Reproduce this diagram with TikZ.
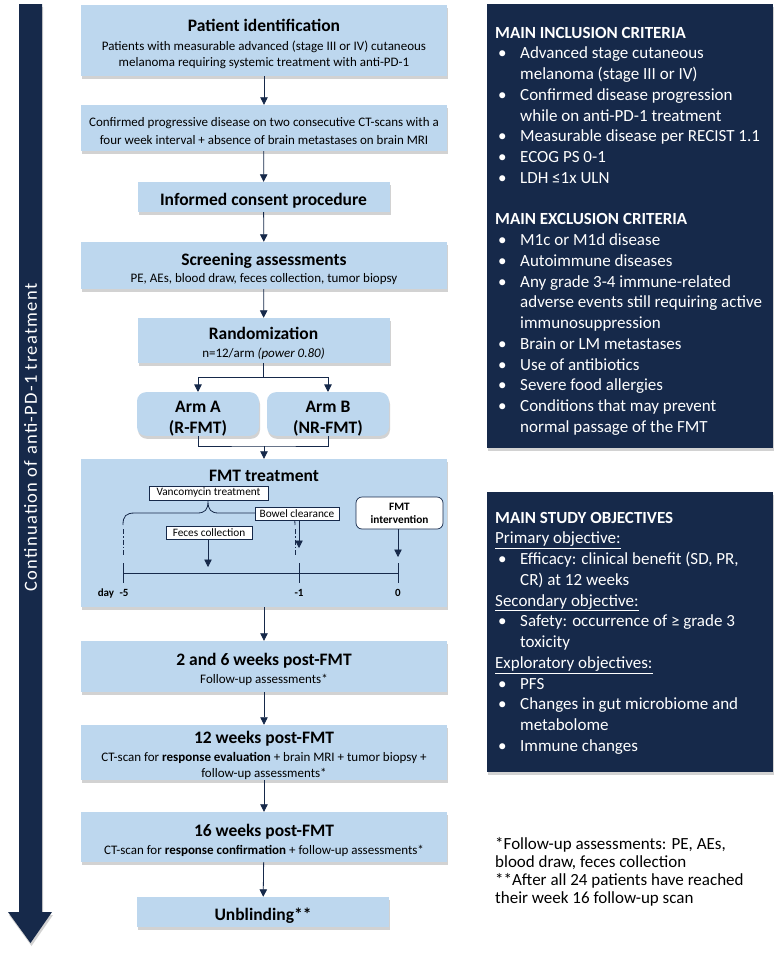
\documentclass[tikz,border=0pt]{standalone}
\usepackage{fontspec}
\setmainfont{Carlito}
\usetikzlibrary{arrows.meta,shadows,positioning}
\definecolor{navy}{HTML}{16294A}
\definecolor{paleblue}{HTML}{BDD7EE}
\def\up#1{\rule{0pt}{#1pt}}
\def\hd{\fontsize{17.5}{19}\selectfont\bfseries\up{19}}
\def\sub{\fontsize{13}{16}\selectfont}
\def\sm{\fontsize{11.3}{13}\selectfont}
\def\bul{\makebox[25pt][l]{\hspace{3pt}\textbullet}}
\def\ind{\hspace*{25pt}}
\def\dflow{\draw[flow]}

\begin{document}
\begin{tikzpicture}[x=1pt,y=-1pt,
  shadowed/.style={drop shadow={shadow xshift=1pt,shadow yshift=-3pt,fill=black!35}},
  stage/.style={fill=paleblue,shadowed,inner sep=0pt,align=center,font=\sub,minimum width=366pt},
  narrow/.style={stage,minimum width=252pt},
  arm/.style={stage,font=\fontsize{17.5}{21}\selectfont\bfseries,minimum width=122pt,minimum height=42pt,rounded corners=9pt},
  tag/.style={draw=navy,fill=white,line width=0.7pt,inner sep=0pt,font=\sm},
  flow/.style={navy,line width=0.8pt,-{Triangle[length=7.5pt,width=7.5pt]}},
  link/.style={navy,line width=0.8pt},
  daylbl/.style={inner sep=0pt,font=\fontsize{11}{12}\selectfont\bfseries},
  panel/.style={fill=navy,shadowed,inner sep=0pt,anchor=north west,minimum width=286pt},
  ptext/.style={white,anchor=north west,inner sep=0pt,align=left,font=\fontsize{17}{20.75}\selectfont}]
\useasboundingbox (0,0) rectangle (780,954);

\fill[navy,shadowed] (19,4) -- (42,4) -- (42,912) -- (52,912) -- (30.5,943) -- (8,912) -- (19,912) -- cycle;
\node[rotate=90,white,font=\fontsize{18.5}{20}\selectfont\addfontfeature{LetterSpace=7}] (cont) at (30.5,437.5) {Continuation of anti-PD-1 treatment};

\node[stage,minimum height=71pt] (ident) at (264,40.5) {{\hd Patient identification}\\[3pt]
  Patients with measurable advanced (stage III or IV) cutaneous\\melanoma requiring systemic treatment with anti-PD-1};
\node[stage,minimum height=46pt,font=\fontsize{13}{18}\selectfont] (confirm) at (264,128) {\up{15}Confirmed progressive disease on two consecutive CT-scans with a\\four week interval + absence of brain metastases on brain MRI};
\node[narrow,minimum height=30pt] (consent) at (263.5,197) {\hd Informed consent procedure};
\node[stage,minimum height=47pt] (screen) at (264,265.5) {{\hd Screening assessments}\\[1pt]PE, AEs, blood draw, feces collection, tumor biopsy};
\node[narrow,minimum height=45pt] (random) at (263.5,340.5) {{\hd Randomization}\\[2pt]n=12/arm \textit{(power 0.80)}};
\node[arm] (armA) at (198,414) {\up{20}Arm A\\(R-FMT)};
\node[arm] (armB) at (328,414) {\up{20}Arm B\\(NR-FMT)};
\node[stage,minimum height=148pt,label={[font=\hd,anchor=north,yshift=0pt]north:FMT treatment}] (fmt) at (264,533) {};
\node[stage,minimum height=51pt] (wk6) at (264,666.5) {{\hd 2 and 6 weeks post-FMT}\\[2pt]Follow-up assessments*};
\node[stage,minimum height=49pt] (wk12) at (264,752.5) {{\hd 12 weeks post-FMT}\\[2pt]CT-scan for \textbf{response evaluation} + brain MRI + tumor biopsy +\\follow-up assessments*};
\node[stage,minimum height=50pt] (wk16) at (264,837) {{\hd 16 weeks post-FMT}\\[2pt]CT-scan for \textbf{response confirmation} + follow-up assessments*};
\node[narrow,minimum height=30pt] (unblind) at (263,912) {\hd Unblinding**};

\dflow (ident) -- (confirm);
\dflow (confirm) -- (consent);
\dflow (consent) -- (screen);
\dflow (screen) -- (random);
\dflow (random.south) -- ++(0,14) coordinate (split) -| (armA.north);
\dflow (split) -| (armB.north);
\coordinate (merge) at (264,446);
\draw[link] (armA.south) |- (merge) -| (armB.south);
\dflow (merge) -- (fmt);
\dflow (fmt) -- (wk6);
\dflow (wk6) -- (wk12);
\dflow (wk12) -- (wk16);
\dflow (wk16) -- (unblind);

\coordinate (d5) at (123,573);
\coordinate (d1) at (299,573);
\coordinate (d0) at (398,573);
\draw[link] (d5) -- (d0);
\foreach \d in {d5,d1,d0} \draw[link] ([yshift=10pt]\d) -- ([yshift=-10pt]\d);
\node[daylbl] (lbl5) at (124,593) {-5};
\node[daylbl,left=5pt of lbl5] (lblday) {day};
\node[daylbl] (lbl1) at (299,593) {-1};
\node[daylbl] (lbl0) at (398,593) {0};

\draw[link] (123,525) .. controls (123,516) and (126,513) .. (135,513) -- (197,513)
  .. controls (205,513) and (208,510) .. (208,501) .. controls (208,510) and (211,513) .. (219,513)
  -- (283,513) .. controls (292,513) and (295,516) .. (295,525);
\draw[link,dash pattern=on 5pt off 2pt on 1.5pt off 2pt] (123,529) -- (123,555);
\draw[link,dash pattern=on 5pt off 2pt on 1.5pt off 2pt] (295,529) -- (295,555);
\node[tag,minimum width=119pt,minimum height=14pt] (vanco) at (208.5,493) {Vancomycin treatment};
\node[tag,minimum width=84pt,minimum height=13pt] (bowel) at (297,513.5) {Bowel clearance};
\node[tag,minimum width=86pt,minimum height=13pt] (feces) at (209,532.5) {Feces collection};
\node[tag,rounded corners=6pt,minimum width=87pt,minimum height=32pt,align=center,font=\fontsize{11.3}{13}\selectfont\bfseries] (fmtint) at (399.5,513) {FMT\\intervention};
\coordinate (bowelend) at (299,548);
\coordinate (fecesend) at (208,567);
\coordinate (fmtend) at (398,557);
\dflow (bowel.south -| bowelend) -- (bowelend);
\dflow (feces.south -| fecesend) -- (fecesend);
\dflow (fmtint.south -| fmtend) -- (fmtend);

\node[panel,minimum height=444pt] (criteria) at (487,4) {};
\node[ptext] (incl) at (495,26.8) {\textbf{MAIN INCLUSION CRITERIA}\\
  \bul Advanced stage cutaneous\\
  \ind melanoma (stage III or IV)\\
  \bul Confirmed disease progression\\
  \ind while on anti-PD-1 treatment\\
  \bul Measurable disease per RECIST 1.1\\
  \bul ECOG PS 0-1\\
  \bul LDH ≤1x ULN\\[20.75pt]
  \textbf{MAIN EXCLUSION CRITERIA}\\
  \bul M1c or M1d disease\\
  \bul Autoimmune diseases\\
  \bul Any grade 3-4 immune-related\\
  \ind adverse events still requiring active\\
  \ind immunosuppression\\
  \bul Brain or LM metastases\\
  \bul Use of antibiotics\\
  \bul Severe food allergies\\
  \bul Conditions that may prevent\\
  \ind normal passage of the FMT};

\node[panel,minimum height=280pt] (goals) at (487,492) {};
\node[ptext] (obj) at (495,511.8) {\textbf{MAIN STUDY OBJECTIVES}\\
  \underline{Primary objective:}\\
  \bul Efficacy: clinical benefit (SD, PR,\\
  \ind CR) at 12 weeks\\
  \underline{Secondary objective:}\\
  \bul Safety: occurrence of ≥ grade 3\\
  \ind toxicity\\
  \underline{Exploratory objectives:}\\
  \bul PFS\\
  \bul Changes in gut microbiome and\\
  \ind metabolome\\
  \bul Immune changes};

\node[anchor=north west,inner sep=0pt,align=left,font=\fontsize{17}{18}\selectfont] (notes) at (495,836.8) {*Follow-up assessments: PE, AEs,\\
  blood draw, feces collection\\
  **After all 24 patients have reached\\
  their week 16 follow-up scan};
\end{tikzpicture}
\end{document}
